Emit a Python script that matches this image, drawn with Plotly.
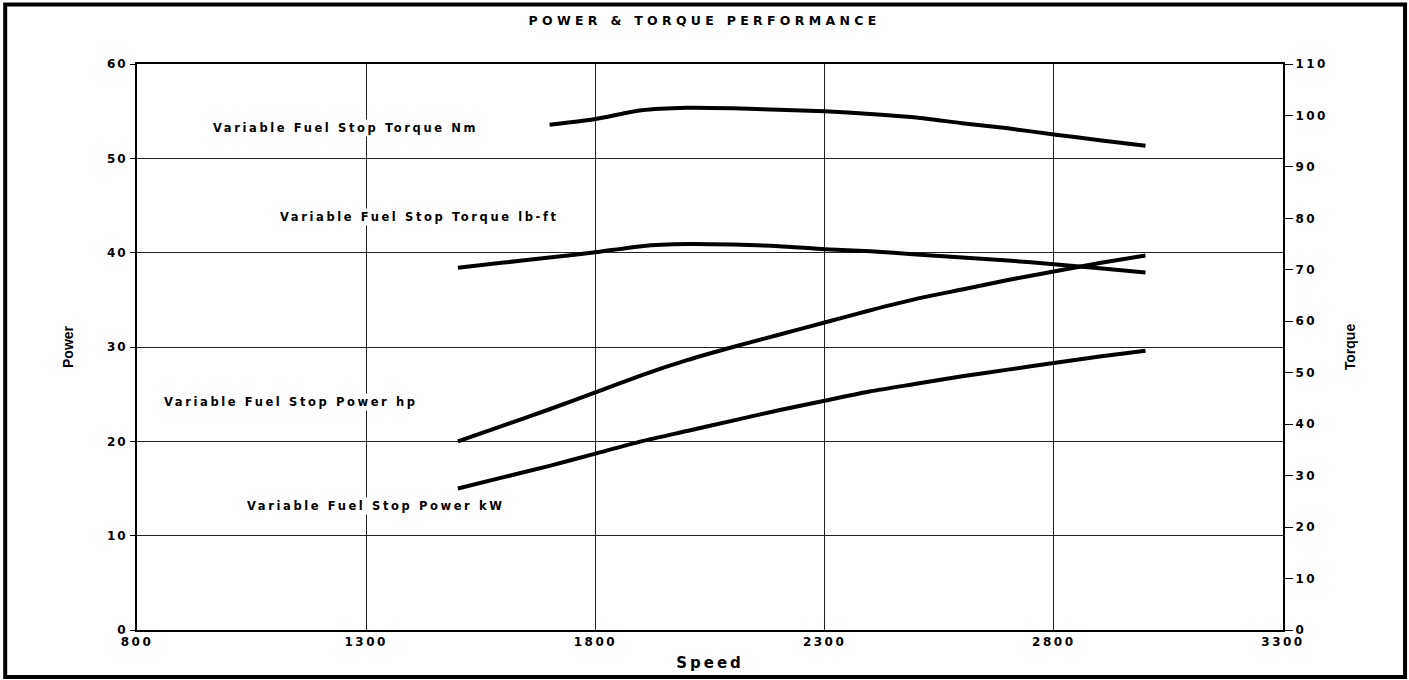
import plotly.graph_objects as go

speed = [1500, 1600, 1700, 1800, 1900, 2000, 2100, 2200, 2300, 2400, 2500, 2600, 2700, 2800, 2900, 3000]
power_hp = [20.0, 21.7, 23.4, 25.2, 27.0, 28.6, 30.0, 31.3, 32.6, 33.9, 35.1, 36.1, 37.1, 38.0, 38.9, 39.7]
power_kw = [15.0, 16.2, 17.4, 18.7, 20.0, 21.1, 22.2, 23.3, 24.3, 25.3, 26.1, 26.9, 27.6, 28.3, 29.0, 29.6]
torque_lbft = [70.4, 71.4, 72.4, 73.4, 74.6, 75.0, 74.9, 74.6, 74.0, 73.6, 73.0, 72.4, 71.8, 71.1, 70.3, 69.5]
speed_nm = [1700, 1800, 1900, 2000, 2100, 2200, 2300, 2400, 2500, 2600, 2700, 2800, 2900, 3000]
torque_nm = [98.2, 99.3, 101.0, 101.5, 101.4, 101.1, 100.8, 100.3, 99.6, 98.5, 97.5, 96.3, 95.2, 94.1]

labels = ["Variable Fuel Stop Torque Nm", "Variable Fuel Stop Torque lb-ft",
          "Variable Fuel Stop Power hp", "Variable Fuel Stop Power kW"]
label_x = [961, 1108, 855, 1036]
label_y = [53.2, 43.8, 24.2, 13.1]

x_ticks = [800, 1300, 1800, 2300, 2800, 3300]
power_ticks = [0, 10, 20, 30, 40, 50, 60]
torque_ticks = [0, 10, 20, 30, 40, 50, 60, 70, 80, 90, 100, 110]


def spaced(s, px):
    return '<span style="letter-spacing:%spx">%s</span>' % (px, s)


BOLD = "DejaVu Sans"
TICKFONT = dict(family=BOLD, size=12, color="black", weight="bold")
line = dict(color="black", width=4, shape="spline", smoothing=0.6)

fig = go.Figure()
fig.add_trace(go.Scatter(x=speed_nm, y=torque_nm, mode="lines", line=line, yaxis="y2", name=labels[0]))
fig.add_trace(go.Scatter(x=speed, y=torque_lbft, mode="lines", line=line, yaxis="y2", name=labels[1]))
fig.add_trace(go.Scatter(x=speed, y=power_hp, mode="lines", line=line, name=labels[2]))
fig.add_trace(go.Scatter(x=speed, y=power_kw, mode="lines", line=line, name=labels[3]))

for t, x, y in zip(labels, label_x, label_y):
    fig.add_annotation(x=x, y=y, xref="x", yref="y", text=spaced(t, 2.6), showarrow=False,
                       xanchor="left", yanchor="middle", bgcolor="white",
                       font=dict(family=BOLD, size=11.5, color="black", weight="bold"))

# outer frame
fig.add_shape(type="rect", xref="paper", yref="paper", x0=-0.115, x1=1.1065, y0=-0.083, y1=1.105,
              line=dict(color="black", width=4), layer="below")

fig.update_layout(
    width=1409, height=680,
    margin=dict(l=137, r=126, t=64, b=50),
    paper_bgcolor="white", plot_bgcolor="white",
    showlegend=False,
    title=dict(text=spaced("POWER &amp; TORQUE PERFORMANCE", 4.3), x=0.5, xanchor="center", y=0.97, yanchor="middle",
               font=dict(family=BOLD, size=12.5, color="black", weight="bold")),
    xaxis=dict(range=[800, 3300], tickvals=x_ticks, ticktext=[spaced(v, 2.5) for v in x_ticks],
               showgrid=True, gridcolor="#222", gridwidth=1,
               showline=True, linecolor="black", linewidth=2, mirror=True, zeroline=False,
               ticks="", tickfont=TICKFONT,
               title=dict(text=spaced("Speed", 3), standoff=9, font=dict(family=BOLD, size=15, color="black", weight="bold"))),
    yaxis=dict(range=[0, 60], tickvals=power_ticks, ticktext=[spaced(v, 2) for v in power_ticks],
               showgrid=True, gridcolor="#222", gridwidth=1,
               showline=True, linecolor="black", linewidth=2, zeroline=False,
               ticks="outside", ticklen=5, tickcolor="black", tickfont=TICKFONT,
               title=dict(text="Power", standoff=30, font=dict(family="Liberation Sans", size=14, color="black", weight="bold"))),
    yaxis2=dict(range=[0, 110], tickvals=torque_ticks, ticktext=[spaced(v, 2.5) for v in torque_ticks],
                overlaying="y", side="right", showgrid=False,
                showline=True, linecolor="black", linewidth=2, zeroline=False,
                ticks="outside", ticklen=8, tickcolor="black", tickfont=TICKFONT,
                title=dict(text="Torque", standoff=18, font=dict(family="Liberation Sans", size=14, color="black", weight="bold"))),
)

fig.write_html("out.html", config={"displayModeBar": False},
               post_script="document.body.style.margin='0';document.body.style.overflow='hidden';")
